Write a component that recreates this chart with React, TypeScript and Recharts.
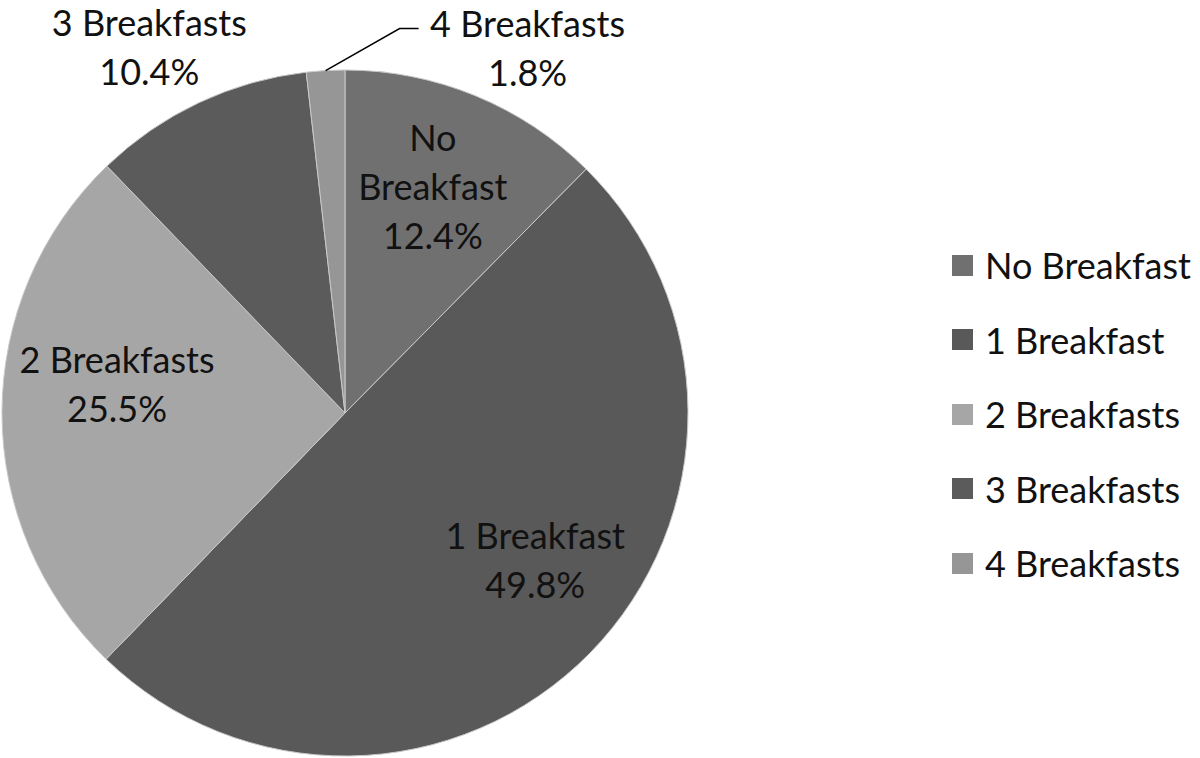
import { Legend, Pie, PieChart } from "recharts";

const categories = ["No Breakfast", "1 Breakfast", "2 Breakfasts", "3 Breakfasts", "4 Breakfasts"];
const shares = [12.4, 49.8, 25.5, 10.4, 1.8];
const sliceColors = ["#707070", "#595959", "#a6a6a6", "#5b5b5b", "#969696"];

// label placement per slice: radius as fraction of outer radius, angle nudge (deg)
const labelRadius = [0.71, 0.7, 0.67, 1.21, 0];
const labelShift = [1.2, 6.8, -7.2, 2.9, 0];

const data = categories.map((name, i) => ({ name, value: shares[i], fill: sliceColors[i] }));

const RADIAN = Math.PI / 180;
const FONT = "Lato, 'Open Sans', sans-serif";
const LINE = 49;

function TextBlock({ x, y, lines }: { x: number; y: number; lines: string[] }) {
  const top = -((lines.length - 1) * LINE) / 2;
  return (
    <text x={x} y={y} textAnchor="middle" fill="#111" fontSize={36} fontFamily={FONT}>
      {lines.map((t, i) => (
        <tspan key={i} x={x} y={y + top + i * LINE} dominantBaseline="central">
          {t}
        </tspan>
      ))}
    </text>
  );
}

function renderLabel(props: any) {
  const { cx, cy, midAngle, outerRadius, index, name, value } = props;
  const pct = `${Number(value).toFixed(1)}%`;

  if (index === 4) {
    // small slice: leader line out to a label above the pie
    const ox = cx + outerRadius * Math.cos(-midAngle * RADIAN);
    const oy = cy + outerRadius * Math.sin(-midAngle * RADIAN);
    const ex = ox + 74;
    const ey = oy - 42;
    return (
      <g key={`lbl-${index}`}>
        <polyline points={`${ox},${oy} ${ex},${ey} ${ex + 19},${ey}`} fill="none" stroke="#000" strokeWidth={1.5} />
        <TextBlock x={ox + 202} y={oy - 23} lines={[name, pct]} />
      </g>
    );
  }

  const ang = (midAngle + labelShift[index]) * RADIAN;
  const r = outerRadius * labelRadius[index];
  const x = cx + r * Math.cos(-ang);
  const y = cy + r * Math.sin(-ang);
  const lines = index === 0 ? [...String(name).split(" "), pct] : [name, pct];

  return (
    <g key={`lbl-${index}`}>
      <TextBlock x={x} y={y} lines={lines} />
    </g>
  );
}

function LegendList() {
  return (
    <div style={{ fontFamily: FONT, fontSize: 36, color: "#111" }}>
      {categories.map((c, i) => (
        <div key={c} style={{ display: "flex", alignItems: "center", height: 74.5 }}>
          <span style={{ width: 21, height: 21, background: sliceColors[i], marginRight: 12, display: "inline-block" }} />
          <span>{c}</span>
        </div>
      ))}
    </div>
  );
}

export default function App() {
  return (
    <div style={{ position: "absolute", left: 0, top: 0, width: 1200, height: 758, background: "#fff" }}>
      <PieChart width={1200} height={758} margin={{ top: 0, right: 0, bottom: 0, left: 0 }}>
        <Pie
          data={data}
          dataKey="value"
          nameKey="name"
          cx={345}
          cy={413}
          outerRadius={343}
          startAngle={90}
          endAngle={-270}
          stroke="#c8c8c8"
          strokeWidth={1}
          label={renderLabel}
          labelLine={false}
          isAnimationActive={false}
        />
        <Legend
          layout="vertical"
          content={() => <LegendList />}
          wrapperStyle={{ left: 952, top: 228, width: 248 }}
        />
      </PieChart>
    </div>
  );
}
